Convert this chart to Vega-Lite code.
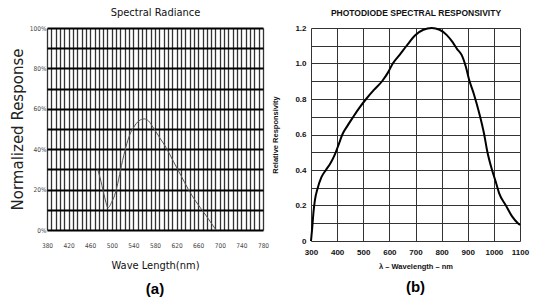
{
  "$schema": "https://vega.github.io/schema/vega-lite/v6.json",
  "background": "white",
  "padding": {"left": 10, "top": 6, "right": 2, "bottom": 2},
  "spacing": 48,
  "bounds": "flush",
  "config": {"view": {"stroke": null}, "font": "Liberation Sans", "axis": {"labelFlush": false}},
  "datasets": {
    "radiance": [
      {"nm": 474, "pct": 30}, {"nm": 480, "pct": 24}, {"nm": 487, "pct": 16}, {"nm": 493, "pct": 11},
      {"nm": 500, "pct": 14}, {"nm": 505, "pct": 17}, {"nm": 511, "pct": 23}, {"nm": 518, "pct": 32},
      {"nm": 526, "pct": 41}, {"nm": 533, "pct": 47}, {"nm": 541, "pct": 51}, {"nm": 550, "pct": 54},
      {"nm": 560, "pct": 55}, {"nm": 568, "pct": 54}, {"nm": 576, "pct": 51}, {"nm": 588, "pct": 46},
      {"nm": 600, "pct": 41}, {"nm": 614, "pct": 34}, {"nm": 628, "pct": 27}, {"nm": 642, "pct": 20},
      {"nm": 656, "pct": 14}, {"nm": 675, "pct": 7}, {"nm": 693, "pct": 0}
    ],
    "responsivity": [
      {"nm": 300, "r": 0.0}, {"nm": 305, "r": 0.08}, {"nm": 310, "r": 0.17}, {"nm": 315, "r": 0.23},
      {"nm": 326, "r": 0.3}, {"nm": 340, "r": 0.36}, {"nm": 357, "r": 0.4}, {"nm": 375, "r": 0.44},
      {"nm": 392, "r": 0.49}, {"nm": 405, "r": 0.54}, {"nm": 420, "r": 0.6}, {"nm": 440, "r": 0.65},
      {"nm": 462, "r": 0.7}, {"nm": 485, "r": 0.75}, {"nm": 511, "r": 0.8}, {"nm": 540, "r": 0.85},
      {"nm": 572, "r": 0.9}, {"nm": 595, "r": 0.95}, {"nm": 613, "r": 1.0}, {"nm": 640, "r": 1.05},
      {"nm": 666, "r": 1.1}, {"nm": 700, "r": 1.16}, {"nm": 730, "r": 1.19}, {"nm": 762, "r": 1.2},
      {"nm": 792, "r": 1.19}, {"nm": 820, "r": 1.16}, {"nm": 842, "r": 1.12}, {"nm": 860, "r": 1.08},
      {"nm": 876, "r": 1.05}, {"nm": 893, "r": 0.98}, {"nm": 905, "r": 0.91}, {"nm": 923, "r": 0.83},
      {"nm": 944, "r": 0.72}, {"nm": 963, "r": 0.6}, {"nm": 974, "r": 0.51}, {"nm": 993, "r": 0.4},
      {"nm": 1008, "r": 0.33}, {"nm": 1020, "r": 0.27}, {"nm": 1046, "r": 0.2}, {"nm": 1069, "r": 0.14},
      {"nm": 1092, "r": 0.1}, {"nm": 1100, "r": 0.09}
    ]
  },
  "hconcat": [
    {
      "width": 216,
      "height": 202,
      "title": {"text": "(a)", "orient": "bottom", "font": "Liberation Sans", "fontSize": 15, "fontWeight": "bold", "color": "black", "offset": 11},
      "resolve": {"scale": {"x": "independent"}, "axis": {"x": "independent"}},
      "layer": [
        {
          "data": {"name": "radiance"},
          "mark": {"type": "line", "color": "#555", "strokeWidth": 1, "interpolate": "monotone"},
          "encoding": {
            "x": {
              "field": "nm", "type": "quantitative",
              "scale": {"domain": [380, 780], "nice": false, "zero": false},
              "axis": {
                "values": [380,388,396,404,412,420,428,436,444,452,460,468,476,484,492,500,508,516,524,532,540,548,556,564,572,580,588,596,604,612,620,628,636,644,652,660,668,676,684,692,700,708,716,724,732,740,748,756,764,772,780],
                "tickCount": 200,
                "labelExpr": "datum.value % 40 == 20 ? datum.label : ''",
                "labelOverlap": false, "labelFlush": false,
                "grid": true, "gridColor": "#333", "gridWidth": 1.3,
                "ticks": false, "domain": false,
                "labelFont": "'DejaVu Sans Condensed', 'Liberation Sans', sans-serif", "labelFontSize": 6.5, "labelColor": "#444", "labelPadding": 12,
                "title": "Wave Length(nm)", "titleFont": "'DejaVu Sans Condensed', 'Liberation Sans', sans-serif", "titleFontSize": 11,
                "titleFontWeight": "normal", "titleColor": "#111", "titlePadding": 11
              }
            },
            "y": {
              "field": "pct", "type": "quantitative",
              "scale": {"domain": [0, 100], "nice": false},
              "axis": {
                "values": [0,10,20,30,40,50,60,70,80,90,100],
                "tickCount": 200,
                "labelExpr": "datum.value % 20 == 0 ? datum.value + '%' : ''",
                "labelOverlap": false, "labelFlush": false,
                "grid": true, "gridColor": "black", "gridWidth": 2,
                "ticks": false, "domain": false,
                "labelFont": "'DejaVu Sans Condensed', 'Liberation Sans', sans-serif", "labelFontSize": 6.5, "labelColor": "#444", "labelPadding": 1,
                "title": "Normalized Response", "titleFont": "DejaVu Sans", "titleFontSize": 15,
                "titleFontWeight": "normal", "titleColor": "#222", "titlePadding": 4
              }
            }
          }
        },
        {
          "mark": {"type": "rule", "color": "black", "strokeWidth": 2},
          "encoding": {
            "x": {
              "datum": 380, "type": "quantitative",
              "scale": {"domain": [380, 780], "nice": false, "zero": false},
              "axis": {"orient": "top", "labels": false, "ticks": false, "domain": false, "grid": false,
                "title": "Spectral Radiance", "titleFont": "'DejaVu Sans Condensed', 'Liberation Sans', sans-serif", "titleFontSize": 11,
                "titleFontWeight": "normal", "titleColor": "#111", "titlePadding": 11}
            },
            "x2": {"datum": 780},
            "y": {"datum": 100, "type": "quantitative"}
          }
        }
      ]
    },
    {
      "width": 209,
      "height": 213,
      "title": {"text": "(b)", "orient": "bottom", "font": "Liberation Sans", "fontSize": 15, "fontWeight": "bold", "color": "black", "offset": 10},
      "resolve": {"scale": {"x": "independent"}, "axis": {"x": "independent"}},
      "layer": [
        {
          "data": {"name": "responsivity"},
          "mark": {"type": "line", "color": "black", "strokeWidth": 2, "interpolate": "monotone"},
          "encoding": {
            "x": {
              "field": "nm", "type": "quantitative",
              "scale": {"domain": [300, 1100], "nice": false, "zero": false},
              "axis": {
                "values": [300,400,500,600,700,800,900,1000,1100],
                "tickCount": 200,
                "format": "d",
                "labelOverlap": false, "labelFlush": false,
                "grid": true, "gridColor": "#333", "gridWidth": 1,
                "ticks": false, "domain": false,
                "labelFont": "Liberation Sans", "labelFontSize": 8, "labelFontWeight": "bold", "labelColor": "#111", "labelPadding": 7,
                "title": "λ – Wavelength – nm", "titleFont": "Liberation Sans", "titleFontSize": 7.5,
                "titleFontWeight": "bold", "titleColor": "#111", "titlePadding": 6
              }
            },
            "y": {
              "field": "r", "type": "quantitative",
              "scale": {"domain": [0, 1.2], "nice": false},
              "axis": {
                "values": [0,0.1,0.2,0.3,0.4,0.5,0.6,0.7,0.8,0.9,1.0,1.1,1.2],
                "tickCount": 200,
                "labelExpr": "datum.value == 0 ? '0' : (round(datum.value*10) % 2 == 0 ? format(datum.value, '.1f') : '')",
                "labelOverlap": false, "labelFlush": false,
                "grid": true, "gridColor": "#333", "gridWidth": 1,
                "ticks": false, "domain": false,
                "labelFont": "Liberation Sans", "labelFontSize": 8, "labelFontWeight": "bold", "labelColor": "#111", "labelPadding": 5,
                "title": "Relative Responsivity", "titleFont": "Liberation Sans", "titleFontSize": 7.5,
                "titleFontWeight": "bold", "titleColor": "#111", "titlePadding": 15
              }
            }
          }
        },
        {
          "mark": {"type": "text", "align": "left", "baseline": "middle", "fontSize": 8.5, "fontWeight": "bold", "font": "Liberation Sans", "color": "#111"},
          "encoding": {
            "x": {"datum": 338, "type": "quantitative", "scale": {"domain": [300, 1100], "nice": false, "zero": false}, "axis": null},
            "y": {"datum": 1.155, "type": "quantitative"},
            "text": {"value": "T"}
          }
        },
        {
          "mark": {"type": "text", "align": "left", "baseline": "middle", "fontSize": 6, "fontWeight": "bold", "font": "Liberation Sans", "color": "#111", "dx": 5, "dy": 2},
          "encoding": {
            "x": {"datum": 338, "type": "quantitative", "scale": {"domain": [300, 1100], "nice": false, "zero": false}, "axis": null},
            "y": {"datum": 1.155, "type": "quantitative"},
            "text": {"value": "A"}
          }
        },
        {
          "mark": {"type": "text", "align": "left", "baseline": "middle", "fontSize": 8.5, "fontWeight": "bold", "font": "Liberation Sans", "color": "#111", "dx": 11},
          "encoding": {
            "x": {"datum": 338, "type": "quantitative", "scale": {"domain": [300, 1100], "nice": false, "zero": false}, "axis": null},
            "y": {"datum": 1.155, "type": "quantitative"},
            "text": {"value": "= 25°C"}
          }
        },
        {
          "mark": {"type": "rule", "color": "#333", "strokeWidth": 1},
          "encoding": {
            "x": {
              "datum": 300, "type": "quantitative",
              "scale": {"domain": [300, 1100], "nice": false, "zero": false},
              "axis": {"orient": "top", "labels": false, "ticks": false, "domain": false, "grid": false,
                "title": "PHOTODIODE SPECTRAL RESPONSIVITY", "titleFont": "Liberation Sans", "titleFontSize": 8.5,
                "titleFontWeight": "bold", "titleColor": "#111", "titlePadding": 11}
            },
            "x2": {"datum": 1100},
            "y": {"datum": 1.2, "type": "quantitative"}
          }
        }
      ]
    }
  ]
}
